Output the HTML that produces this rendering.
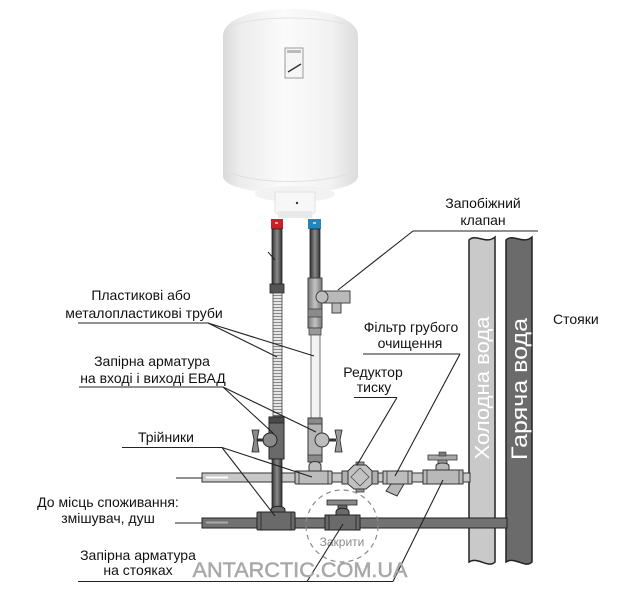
<!DOCTYPE html>
<html><head><meta charset="utf-8">
<style>
html,body{margin:0;padding:0;background:#fff;}
svg{display:block;}
text{font-family:"Liberation Sans",Arial,sans-serif;}
</style></head>
<body>
<svg width="640" height="593" viewBox="0 0 640 593" xmlns="http://www.w3.org/2000/svg">
<defs>
<linearGradient id="body" x1="0" y1="0" x2="1" y2="0">
<stop offset="0" stop-color="#d9d9d9"/>
<stop offset="0.12" stop-color="#ececec"/>
<stop offset="0.45" stop-color="#fbfbfb"/>
<stop offset="0.8" stop-color="#f2f2f2"/>
<stop offset="1" stop-color="#dcdcdc"/>
</linearGradient>
<linearGradient id="dp" x1="0" y1="0" x2="1" y2="0">
<stop offset="0" stop-color="#333"/>
<stop offset="0.5" stop-color="#8a8a8a"/>
<stop offset="1" stop-color="#333"/>
</linearGradient>
<linearGradient id="lp" x1="0" y1="0" x2="1" y2="0">
<stop offset="0" stop-color="#777"/>
<stop offset="0.5" stop-color="#c4c4c4"/>
<stop offset="1" stop-color="#777"/>
</linearGradient>
<pattern id="corr" width="10" height="3" patternUnits="userSpaceOnUse">
<rect width="10" height="3" fill="#e6e6e6"/>
<line x1="0" y1="1.5" x2="10" y2="1.5" stroke="#8a8a8a" stroke-width="1"/>
</pattern>
</defs>

<!-- Heater -->
<path d="M223,36 C223,0 358,0 358,36 L358,176 C358,199 223,199 223,176 Z" fill="url(#body)"/>
<path d="M226,30 C240,14 340,14 355,30" fill="none" stroke="#e2e2e2" stroke-width="1"/>
<path d="M224,168 C240,186 340,186 357,168" fill="none" stroke="#e0e0e0" stroke-width="1"/>
<ellipse cx="295" cy="194" rx="40" ry="8" fill="#f2f2f2"/>
<path d="M275,192 L315,192 L315,212 C310,219 280,219 275,212 Z" fill="#f7f7f7" stroke="#e2e2e2" stroke-width="1"/>
<rect x="278" y="211" width="34" height="7" fill="#e9e9e9"/>
<circle cx="297" cy="203" r="1.2" fill="#333"/>
<rect x="285" y="48" width="18" height="30" fill="#f6f6f6" stroke="#9a9a9a" stroke-width="1"/>
<rect x="287" y="50" width="14" height="3" fill="#bbb"/>
<line x1="288" y1="72" x2="301" y2="64" stroke="#333" stroke-width="1.4"/>

<!-- connectors -->
<rect x="271" y="219" width="12" height="10" fill="#c62128"/>
<rect x="308" y="219" width="13" height="10" fill="#1f86bf"/>
<rect x="275" y="222" width="3" height="2" fill="#f0a0a0"/>
<rect x="313" y="222" width="3" height="2" fill="#a0d0f0"/>

<!-- left vertical pipe -->
<rect x="272" y="229" width="10" height="56" fill="url(#dp)" stroke="#222" stroke-width="0.8"/>
<line x1="268" y1="252" x2="275" y2="260" stroke="#222" stroke-width="1"/>
<rect x="270" y="284" width="14" height="9" fill="#555" stroke="#222" stroke-width="0.8"/>
<rect x="273" y="293" width="9" height="123" fill="url(#corr)" stroke="#444" stroke-width="0.8"/>

<!-- right vertical pipe -->
<rect x="310" y="229" width="10" height="51" fill="url(#dp)" stroke="#222" stroke-width="0.8"/>
<!-- safety valve -->
<rect x="322" y="291" width="28" height="12" fill="#b9b9b9" stroke="#444" stroke-width="1"/>
<rect x="332" y="303" width="9" height="10" fill="#b9b9b9" stroke="#444" stroke-width="1"/>
<rect x="308" y="278" width="14" height="50" fill="url(#lp)" stroke="#444" stroke-width="1"/>
<circle cx="322" cy="297" r="6" fill="#bdbdbd" stroke="#444" stroke-width="1"/>
<rect x="308" y="309" width="14" height="8" fill="#8a8a8a" stroke="#444" stroke-width="0.8"/>
<rect x="309" y="328" width="12" height="7" fill="#999" stroke="#444" stroke-width="0.8"/>
<rect x="311" y="335" width="9" height="83" fill="#f3f3f3" stroke="#555" stroke-width="0.8"/>

<!-- Risers -->
<path d="M469,240 C476,233 486,245 495,237 L495,562 C488,569 478,556 469,562 Z" fill="#c9c9c9" stroke="#222" stroke-width="1.5"/>
<path d="M506,240 C513,233 523,245 532,237 L532,562 C525,569 515,556 506,562 Z" fill="#6b6b6b" stroke="#222" stroke-width="1.5"/>
<text transform="translate(489,388) rotate(-90)" text-anchor="middle" font-size="20" fill="#fff" textLength="143" lengthAdjust="spacingAndGlyphs">Холодна вода</text>
<text transform="translate(527,389) rotate(-90)" text-anchor="middle" font-size="22" fill="#fff" textLength="142" lengthAdjust="spacingAndGlyphs">Гаряча вода</text>

<!-- upper horizontal pipe -->
<rect x="202" y="473" width="268" height="9" fill="#c8c8c8" stroke="#333" stroke-width="1"/>
<line x1="206" y1="477.5" x2="228" y2="477.5" stroke="#fff" stroke-width="2"/>
<!-- lower horizontal pipe -->
<rect x="202" y="518" width="305" height="10" fill="#727272" stroke="#222" stroke-width="1"/>
<line x1="206" y1="522.5" x2="228" y2="522.5" stroke="#aaa" stroke-width="2"/>

<!-- left shutoff valve -->
<line x1="256" y1="440" x2="270" y2="440" stroke="#333" stroke-width="3"/>
<path d="M252,430 L259,430 L257,440 L259,452 L252,452 L254,440 Z" fill="#8a8a8a" stroke="#222" stroke-width="0.8"/>
<rect x="269" y="417" width="15" height="42" fill="#6a6a6a" stroke="#222" stroke-width="1"/>
<rect x="269" y="417" width="15" height="6" fill="#4a4a4a" stroke="#222" stroke-width="0.8"/>
<circle cx="270" cy="440" r="7" fill="#8a8a8a" stroke="#222" stroke-width="1"/>
<!-- left vertical dark pipe to lower tee -->
<rect x="272" y="459" width="10" height="52" fill="url(#dp)" stroke="#222" stroke-width="0.8"/>

<!-- right shutoff valve -->
<line x1="322" y1="440" x2="336" y2="440" stroke="#333" stroke-width="3"/>
<path d="M335,430 L342,430 L340,440 L342,452 L335,452 L337,440 Z" fill="#9a9a9a" stroke="#222" stroke-width="0.8"/>
<rect x="308" y="418" width="14" height="44" fill="#b4b4b4" stroke="#333" stroke-width="1"/>
<rect x="308" y="418" width="14" height="6" fill="#8a8a8a" stroke="#333" stroke-width="0.8"/>
<rect x="308" y="455" width="14" height="7" fill="#8a8a8a" stroke="#333" stroke-width="0.8"/>
<circle cx="322" cy="440" r="7" fill="#bdbdbd" stroke="#333" stroke-width="1"/>

<!-- upper tee -->
<path d="M309,472 L309,466 C309,460 321,460 321,466 L321,472 Z" fill="#bcbcbc" stroke="#333" stroke-width="1"/>
<rect x="295" y="471" width="37" height="13" rx="1" fill="#bcbcbc" stroke="#333" stroke-width="1"/>
<line x1="299" y1="471" x2="299" y2="484" stroke="#333" stroke-width="0.8"/>
<line x1="328" y1="471" x2="328" y2="484" stroke="#333" stroke-width="0.8"/>

<!-- lower tee -->
<path d="M271,513 L271,510 C271,505 285,505 285,510 L285,513 Z" fill="#6a6a6a" stroke="#222" stroke-width="1"/>
<rect x="257" y="512" width="38" height="18" rx="1" fill="#6a6a6a" stroke="#222" stroke-width="1"/>
<line x1="261" y1="512" x2="261" y2="530" stroke="#222" stroke-width="0.8"/>
<line x1="291" y1="512" x2="291" y2="530" stroke="#222" stroke-width="0.8"/>

<!-- pressure reducer -->
<rect x="342" y="471" width="7" height="13" fill="#b0b0b0" stroke="#333" stroke-width="1"/>
<rect x="371" y="471" width="7" height="13" fill="#b0b0b0" stroke="#333" stroke-width="1"/>
<rect x="356" y="462" width="8" height="5" fill="#999" stroke="#333" stroke-width="0.8"/>
<rect x="356" y="487" width="8" height="5" fill="#999" stroke="#333" stroke-width="0.8"/>
<path d="M348,471 L354,465 L366,465 L372,471 L372,484 L366,489 L354,489 L348,484 Z" fill="#c2c2c2" stroke="#333" stroke-width="1"/>
<path d="M351,477 L360,468 L369,477 L360,486 Z" fill="none" stroke="#555" stroke-width="0.8"/>

<!-- filter -->
<path d="M391,484 L404,484 L397,496 L386,491 Z" fill="#b8b8b8" stroke="#333" stroke-width="1"/>
<rect x="383" y="471" width="29" height="13" fill="#bdbdbd" stroke="#333" stroke-width="1"/>
<line x1="387" y1="471" x2="387" y2="484" stroke="#333" stroke-width="0.8"/>
<line x1="408" y1="471" x2="408" y2="484" stroke="#333" stroke-width="0.8"/>

<!-- upper right valve -->
<rect x="438" y="459" width="9" height="6" fill="#999" stroke="#333" stroke-width="0.8"/>
<path d="M428,455 L457,455 L457,460 L428,460 Z" fill="#a8a8a8" stroke="#333" stroke-width="0.8"/>
<rect x="439" y="452" width="7" height="4" fill="#777" stroke="#333" stroke-width="0.6"/>
<path d="M436,470 L436,466 C436,462 449,462 449,466 L449,470 Z" fill="#b8b8b8" stroke="#333" stroke-width="1"/>
<rect x="423" y="470" width="40" height="14" fill="#b8b8b8" stroke="#333" stroke-width="1"/>
<line x1="427" y1="470" x2="427" y2="484" stroke="#333" stroke-width="0.8"/>
<line x1="459" y1="470" x2="459" y2="484" stroke="#333" stroke-width="0.8"/>

<!-- lower valve (closed) -->
<rect x="338" y="503" width="9" height="6" fill="#666" stroke="#222" stroke-width="0.8"/>
<path d="M327,500 L357,500 L357,505 L327,505 Z" fill="#888" stroke="#222" stroke-width="0.8"/>
<path d="M336,516 L336,512 C336,507 349,507 349,512 L349,516 Z" fill="#6a6a6a" stroke="#222" stroke-width="1"/>
<rect x="325" y="515" width="35" height="15" fill="#6a6a6a" stroke="#222" stroke-width="1"/>
<line x1="329" y1="515" x2="329" y2="530" stroke="#222" stroke-width="0.8"/>
<line x1="356" y1="515" x2="356" y2="530" stroke="#222" stroke-width="0.8"/>
<circle cx="342" cy="526" r="36" fill="none" stroke="#8a8a8a" stroke-width="1.2" stroke-dasharray="5,4"/>
<text x="342" y="546" text-anchor="middle" font-size="12" fill="#8a8a8a">Закрити</text>

<!-- Leader lines -->
<g stroke="#222" stroke-width="1.1" fill="none">
<line x1="78" y1="323" x2="208" y2="323"/>
<line x1="208" y1="323" x2="277" y2="357"/>
<line x1="208" y1="323" x2="314" y2="356"/>
<line x1="79" y1="387" x2="223" y2="387"/>
<line x1="223" y1="387" x2="273" y2="433"/>
<line x1="223" y1="387" x2="316" y2="432"/>
<line x1="122" y1="447.5" x2="222" y2="447.5"/>
<line x1="222" y1="447.5" x2="312" y2="477"/>
<line x1="222" y1="447.5" x2="275" y2="516"/>
<line x1="176" y1="478" x2="202" y2="478"/>
<line x1="175" y1="523" x2="202" y2="523"/>
<line x1="78" y1="581.5" x2="393" y2="581.5"/>
<line x1="307" y1="581.5" x2="343" y2="524"/>
<line x1="393" y1="581.5" x2="443" y2="480"/>
<line x1="413" y1="231" x2="538" y2="231"/>
<line x1="413" y1="231" x2="338" y2="290"/>
<line x1="363" y1="354" x2="460" y2="354"/>
<line x1="460" y1="354" x2="395" y2="476"/>
<line x1="354" y1="397.5" x2="397" y2="397.5"/>
<line x1="397" y1="397.5" x2="357" y2="465"/>
</g>

<!-- Labels -->
<g font-size="14" fill="#111" text-anchor="middle">
<text x="141" y="300">Пластикові або</text>
<text x="144" y="318">металопластикові труби</text>
<text x="152" y="366">Запірна арматура</text>
<text x="153" y="383">на вході і виході ЕВАД</text>
<text x="166" y="442">Трійники</text>
<text x="108" y="507">До місць споживання:</text>
<text x="108" y="523">змішувач, душ</text>
<text x="138" y="560">Запірна арматура</text>
<text x="138" y="575">на стояках</text>
<text x="483" y="208">Запобіжний</text>
<text x="483" y="225">клапан</text>
<text x="411" y="332">Фільтр грубого</text>
<text x="410" y="348">очищення</text>
<text x="373" y="377">Редуктор</text>
<text x="374" y="392">тиску</text>
</g>
<text x="553" y="324" font-size="14" fill="#111">Стояки</text>

<!-- watermark -->
<text x="300" y="577" text-anchor="middle" font-size="21.5" fill="#a8a8a8" stroke="#a8a8a8" stroke-width="0.5" textLength="215" lengthAdjust="spacingAndGlyphs">ANTARCTIC.COM.UA</text>
</svg>
</body></html>
